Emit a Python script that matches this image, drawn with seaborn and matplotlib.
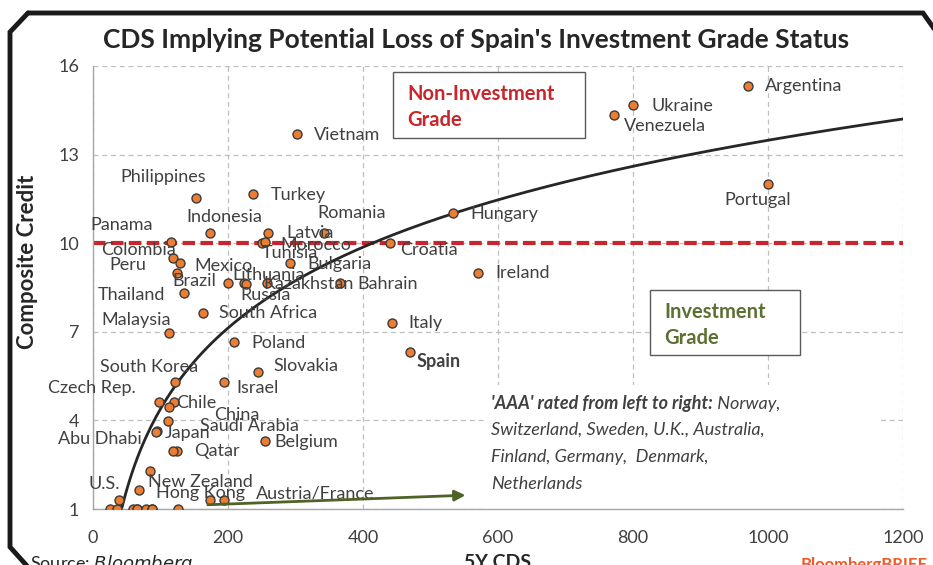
import matplotlib
matplotlib.use('Agg')
import matplotlib.pyplot as plt
from matplotlib.lines import Line2D
from matplotlib.patches import Rectangle, FancyArrowPatch
import numpy as np
import pandas as pd
import seaborn as sns

# ---- data ----
countries = ['Argentina', 'Ukraine', 'Venezuela', 'Portugal', 'Vietnam', 'Turkey',
             'Philippines', 'Hungary', 'Indonesia', 'Latvia', 'Romania', 'Panama',
             'Tunisia', 'Morocco', 'Croatia', 'Colombia', 'Peru', 'Mexico', 'Bulgaria',
             'Brazil', 'Lithuania', 'Russia', 'Kazakhstan', 'Bahrain', 'Thailand',
             'South Africa', 'Malaysia', 'Poland', 'Italy', 'Ireland', 'Spain',
             'Slovakia', 'South Korea', 'Israel', 'Czech Rep.', 'Chile', 'China',
             'Saudi Arabia', 'Japan', 'Abu Dhabi', 'Qatar', 'Belgium', 'New Zealand',
             'U.S.', 'Hong Kong', 'Austria/France']
cds = [970, 800, 772, 1000, 302, 237,
       153, 533, 173, 259, 342, 116,
       250, 255, 440, 119, 129, 124, 292,
       200, 224, 226, 258, 366, 135,
       163, 113, 209, 443, 570, 470,
       244, 121, 194, 98, 120, 113,
       111, 95, 93, 119, 255, 85,
       68, 173, 194]
credit = [15.32, 14.68, 14.34, 12.0, 13.7, 11.67,
          11.53, 11.02, 10.35, 10.35, 10.35, 10.04,
          10.0, 10.05, 10.0, 9.5, 9.33, 9.0, 9.33,
          8.65, 8.65, 8.62, 8.65, 8.65, 8.3,
          7.63, 6.96, 6.66, 7.3, 9.0, 6.32,
          5.64, 5.3, 5.3, 4.62, 4.62, 4.45,
          3.98, 3.64, 3.62, 2.96, 3.3, 2.29,
          1.64, 1.3, 1.3]

# unlabelled points ('AAA' names and a few hidden ones)
other_cds = [25, 36, 59, 65, 65, 79, 87, 87, 126, 38, 124]
other_credit = [1, 1, 1, 1, 1, 1, 1, 1, 1, 1.3, 2.96]

# logarithmic trend line: credit = a + b*ln(cds)
trend_a = -13.8
trend_b = 3.95
trend_start, trend_end = 43, 1200

# label anchor positions (left edge, vertical centre) in data units
label_pos = {
    'Argentina': (996, 15.32), 'Ukraine': (827, 14.65), 'Venezuela': (787, 13.97),
    'Portugal': (936, 11.46), 'Vietnam': (327, 13.66), 'Turkey': (264, 11.63),
    'Philippines': (40, 12.24), 'Hungary': (559, 11.0), 'Indonesia': (138, 10.9),
    'Latvia': (286, 10.35), 'Romania': (333, 11.02), 'Panama': (-4, 10.6),
    'Tunisia': (250, 9.67), 'Morocco': (277, 9.94), 'Croatia': (455, 9.77),
    'Colombia': (12, 9.77), 'Peru': (24, 9.26), 'Mexico': (150, 9.23),
    'Bulgaria': (317, 9.3), 'Brazil': (117, 8.72), 'Lithuania': (206, 8.92),
    'Russia': (219, 8.25), 'Kazakhstan': (252, 8.62), 'Bahrain': (391, 8.62),
    'Thailand': (7, 8.25), 'South Africa': (187, 7.64), 'Malaysia': (12, 7.4),
    'Poland': (234, 6.62), 'Italy': (467, 7.3), 'Ireland': (596, 8.99),
    'Spain': (480, 5.98), 'Slovakia': (267, 5.84), 'South Korea': (10, 5.8),
    'Israel': (212, 5.1), 'Czech Rep.': (-67, 5.1), 'Chile': (123, 4.59),
    'China': (179, 4.18), 'Saudi Arabia': (159, 3.81), 'Japan': (107, 3.57),
    'Abu Dhabi': (-52, 3.37), 'Qatar': (150, 2.96), 'Belgium': (268, 3.27),
    'New Zealand': (81, 1.91), 'U.S.': (-6, 1.85), 'Hong Kong': (93, 1.54),
    'Austria/France': (241, 1.51),
}

aaa_lines = ['Switzerland, Sweden, U.K., Australia,',
             'Finland, Germany,  Denmark,',
             'Netherlands']

df = pd.DataFrame({'country': countries, 'cds': cds, 'credit': credit})
other = pd.DataFrame({'cds': other_cds, 'credit': other_credit})
trend_x = np.linspace(trend_start, trend_end, 300)
trend = pd.DataFrame({'cds': trend_x, 'credit': trend_a + trend_b * np.log(trend_x)})

# ---- style ----
sns.set_theme(style='white')
plt.rcParams['font.family'] = ['Lato', 'DejaVu Sans']
txt = '#404040'

fig = plt.figure(figsize=(9.33, 5.65), dpi=100)
ax = fig.add_axes([93 / 933, 1 - 509 / 565, 810 / 933, 443 / 565])

ax.set_xlim(0, 1200)
ax.set_ylim(1, 16)
ax.set_xticks(range(0, 1201, 200))
ax.set_yticks([1, 4, 7, 10, 13, 16])
ax.grid(True, color='#bfbfbf', linestyle=(0, (4, 3)), linewidth=0.9)
ax.set_axisbelow(True)
for side in ['top', 'right']:
    ax.spines[side].set_visible(False)
for side in ['left', 'bottom']:
    ax.spines[side].set_color('#a6a6a6')
    ax.spines[side].set_linewidth(1)
ax.tick_params(axis='both', direction='out', length=4, width=1, color='#a6a6a6',
               labelsize=13, labelcolor=txt, pad=6)
ax.tick_params(axis='x', pad=11)

# white panel behind the AAA note hides the grid
ax.add_patch(Rectangle((581, 1), 585, 4.2, facecolor='white', edgecolor='none', zorder=1))

# investment grade threshold
ax.axhline(10, color='#c8252c', linewidth=3, linestyle=(0, (3, 1.3)), zorder=2)

sns.lineplot(data=trend, x='cds', y='credit', color='#262626', linewidth=2,
             ax=ax, zorder=3, legend=False)
sns.scatterplot(data=other, x='cds', y='credit', color='#ed7d31', edgecolor='#3a3a3a',
                linewidth=1, s=42, ax=ax, zorder=4, legend=False)
sns.scatterplot(data=df, x='cds', y='credit', color='#ed7d31', edgecolor='#3a3a3a',
                linewidth=1, s=42, ax=ax, zorder=4, legend=False)
ax.set_xlabel('')
ax.set_ylabel('')

for name in countries:
    lx, ly = label_pos[name]
    ax.text(lx, ly, name, fontsize=13, color=txt, va='center', ha='left',
            fontweight='bold' if name == 'Spain' else 'normal', zorder=5, clip_on=False)

# boxes
ax.add_patch(Rectangle((444, 13.56), 285, 2.24, facecolor='white', edgecolor='#595959',
                       linewidth=1, zorder=5))
ax.text(466, 15.05, 'Non-Investment', fontsize=14.5, fontweight='bold', color='#c8252c',
        va='center', zorder=6)
ax.text(466, 14.17, 'Grade', fontsize=14.5, fontweight='bold', color='#c8252c',
        va='center', zorder=6)
ax.add_patch(Rectangle((825, 6.21), 222, 2.21, facecolor='white', edgecolor='#595959',
                       linewidth=1, zorder=5))
ax.text(847, 7.68, 'Investment', fontsize=14.5, fontweight='bold', color='#5b7032',
        va='center', zorder=6)
ax.text(847, 6.8, 'Grade', fontsize=14.5, fontweight='bold', color='#5b7032',
        va='center', zorder=6)

# AAA note
t1 = ax.text(590, 4.56, "'AAA' rated from left to right:", fontsize=13, style='italic',
             fontweight='bold', color=txt, va='center', zorder=6)
ax.annotate(' Norway,', xy=(1, 0), xycoords=t1, va='bottom', ha='left', fontsize=13,
            style='italic', color=txt, zorder=6)
for line, ly in zip(aaa_lines, [3.68, 2.76, 1.85]):
    ax.text(590, ly, line, fontsize=13, style='italic', color=txt, va='center', zorder=6)

ax.add_patch(FancyArrowPatch((166, 1.14), (556, 1.47), arrowstyle='-|>', mutation_scale=16,
                             color='#4f6228', linewidth=2, zorder=6))

# titles and outer texts
fig.text(0.51, 1 - 40 / 565, "CDS Implying Potential Loss of Spain's Investment Grade Status",
         ha='center', va='center', fontsize=19, fontweight='bold', color='#262626')
fig.text(28 / 933, 1 - 262 / 565, 'Composite Credit', rotation=90, ha='center', va='center',
         fontsize=16, fontweight='bold', color='#262626')
fig.text(498 / 933, 1 - 563 / 565, '5Y CDS', ha='center', va='center', fontsize=14,
         fontweight='bold', color='#262626')
fig.text(30 / 933, 1 - 564 / 565, 'Source: $\\it{Bloomberg}$', ha='left', va='center',
         fontsize=13, color='#262626')
fig.text(928 / 933, 1 - 565 / 565, 'BloombergBRIEF', ha='right', va='center', fontsize=12,
         fontweight='bold', color='#f05a28')

# chamfered outer frame
fx = [28, 923, 935]
fy = [13, 13, 30]
fig.add_artist(Line2D([x / 933 for x in fx], [1 - y / 565 for y in fy],
                      transform=fig.transFigure, color='#1a1a1a', linewidth=3.5,
                      solid_joinstyle='miter'))
fx2 = [28, 10, 10, 28]
fy2 = [13, 32, 547, 567]
fig.add_artist(Line2D([x / 933 for x in fx2], [1 - y / 565 for y in fy2],
                      transform=fig.transFigure, color='#1a1a1a', linewidth=3.5,
                      solid_joinstyle='miter'))

fig.savefig('out.png', dpi=100)
